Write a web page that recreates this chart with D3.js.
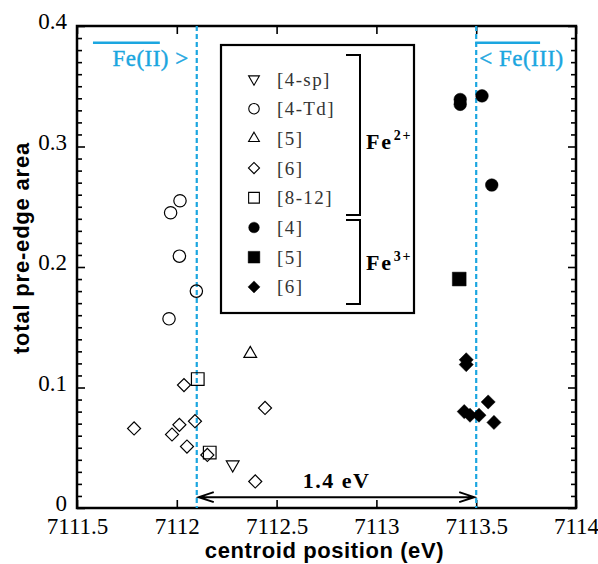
<!DOCTYPE html>
<html>
<head>
<meta charset="utf-8">
<script src="https://cdn.jsdelivr.net/npm/d3@7"></script>
<style>
  body { margin: 0; background: #fff; }
  svg { display: block; }
  .tick text { font-family: 'Liberation Serif', 'Times New Roman', serif; font-size: 23px; fill: #000; }
</style>
</head>
<body>
<script>
// Fe2+ series [x = centroid position (eV), y = total pre-edge area]
const fe2_4sp = [[7112.28, 0.036]]
const fe2_4td = [[7112.016, 0.255], [7111.969, 0.245], [7112.013, 0.209], [7112.098, 0.180], [7111.961, 0.157]]
const fe2_5 = [[7112.368, 0.128]]
const fe2_6 = [[7112.036, 0.102], [7112.442, 0.083], [7112.091, 0.072], [7112.013, 0.069], [7111.786, 0.066],
  [7111.976, 0.061], [7112.051, 0.051], [7112.153, 0.044], [7112.393, 0.022]]
const fe2_812 = [[7112.105, 0.107], [7112.165, 0.046]]
// Fe3+ series
const fe3_4 = [[7113.42, 0.339], [7113.42, 0.335], [7113.529, 0.342], [7113.578, 0.268]]
const fe3_5 = [[7113.415, 0.190]]
const fe3_6 = [[7113.45, 0.123], [7113.45, 0.119], [7113.56, 0.088], [7113.44, 0.080], [7113.469, 0.077],
  [7113.514, 0.077], [7113.589, 0.071]]

const xTicks = [7111.5, 7112, 7112.5, 7113, 7113.5, 7114]
const xTickLabels = ['7111.5', '7112', '7112.5', '7113', '7113.5', '7114']
const yTicks = [0, 0.1, 0.2, 0.3, 0.4]
const yTickLabels = ['0', '0.1', '0.2', '0.3', '0.4']
const refLines = [7112.1, 7113.5]

const legendLabels = ['[4-sp]', '[4-Td]', '[5]', '[6]', '[8-12]', '[4]', '[5]', '[6]']

const width = 598
const height = 564
const margin = { left: 77, right: 22, top: 26, bottom: 56 }
const colors = { cyan: '#1ba6e0', ink: '#000', legend: '#333' }

const svg = d3.select('body').append('svg')
  .attr('width', width)
  .attr('height', height)

const x = d3.scaleLinear().domain([7111.5, 7114]).range([margin.left, width - margin.right])
const y = d3.scaleLinear().domain([0, 0.4]).range([height - margin.bottom, margin.top])
const x0 = margin.left, x1 = width - margin.right
const y0 = height - margin.bottom, y1 = margin.top

const xMinor = d3.range(75116, 71140 + 1).map(v => v / 10).filter(v => !xTicks.includes(v))
const yMinor = d3.range(0, 41).map(v => v / 100).filter(v => v % 0.1 > 0.001 && v % 0.1 < 0.099)

// axes with inward ticks
const axes = [
  [d3.axisBottom(x).tickValues(xTicks).tickFormat((d, i) => xTickLabels[i]).tickSize(-8).tickPadding(10), `translate(0,${y0})`],
  [d3.axisBottom(x).tickValues(xMinor).tickFormat('').tickSize(-5), `translate(0,${y0})`],
  [d3.axisTop(x).tickValues(xTicks).tickFormat('').tickSize(-8), `translate(0,${y1})`],
  [d3.axisTop(x).tickValues(xMinor).tickFormat('').tickSize(-5), `translate(0,${y1})`],
  [d3.axisLeft(y).tickValues(yTicks).tickFormat((d, i) => yTickLabels[i]).tickSize(-8).tickPadding(10), `translate(${x0},0)`],
  [d3.axisLeft(y).tickValues(yMinor).tickFormat('').tickSize(-5), `translate(${x0},0)`],
  [d3.axisRight(y).tickValues(yTicks).tickFormat('').tickSize(-8), `translate(${x1},0)`],
  [d3.axisRight(y).tickValues(yMinor).tickFormat('').tickSize(-5), `translate(${x1},0)`]
]
axes.forEach(([ax, tr], i) => {
  const g = svg.append('g').attr('transform', tr).call(ax)
  g.select('.domain').remove()
  g.selectAll('.tick line').attr('stroke', colors.ink).attr('stroke-width', 1.6)
  if (i === 4) g.selectAll('.tick text').attr('dy', '0.12em')
})

// frame
svg.append('rect')
  .attr('x', x0).attr('y', y1)
  .attr('width', x1 - x0).attr('height', y0 - y1)
  .attr('fill', 'none').attr('stroke', colors.ink).attr('stroke-width', 2.5)

// axis titles
svg.append('text')
  .attr('x', (x0 + x1) / 2 - 2).attr('y', 558)
  .attr('text-anchor', 'middle')
  .style('font-family', "'Liberation Sans', Arial, sans-serif")
  .style('font-weight', 'bold').style('font-size', '22px').style('letter-spacing', '0.6px')
  .text('centroid position (eV)')

svg.append('text')
  .attr('transform', 'translate(29,248) rotate(-90)')
  .attr('text-anchor', 'middle')
  .style('font-family', "'Liberation Sans', Arial, sans-serif")
  .style('font-weight', 'bold').style('font-size', '22px').style('letter-spacing', '0.8px')
  .text('total pre-edge area')

// reference dashed lines
svg.selectAll('line.ref')
  .data(refLines)
  .enter().append('line')
  .attr('class', 'ref')
  .attr('x1', d => x(d)).attr('x2', d => x(d))
  .attr('y1', y1).attr('y2', y0)
  .attr('stroke', colors.cyan).attr('stroke-width', 2.2)
  .attr('stroke-dasharray', '5,3')

// Fe(II) / Fe(III) labels with overlines
const cyanText = (t, xx, anchor) => svg.append('text')
  .attr('x', xx).attr('y', 66).attr('text-anchor', anchor)
  .style('font-family', "'Liberation Serif', 'Times New Roman', serif")
  .style('font-size', '23px').style('letter-spacing', '0.5px')
  .attr('fill', colors.cyan).attr('stroke', colors.cyan).attr('stroke-width', 0.4)
  .text(t)
cyanText('Fe(II) >', x(refLines[0]) - 8, 'end')
cyanText('< Fe(III)', x(refLines[1]) + 3, 'start')
svg.append('line')
  .attr('x1', x(7111.58)).attr('x2', x(7111.915)).attr('y1', y(0.386)).attr('y2', y(0.386))
  .attr('stroke', colors.cyan).attr('stroke-width', 2.5)
svg.append('line')
  .attr('x1', x(refLines[1]) - 1).attr('x2', x(7113.82)).attr('y1', y(0.386)).attr('y2', y(0.386))
  .attr('stroke', colors.cyan).attr('stroke-width', 2.5)

// 1.4 eV double arrow
const ay = y(0.009)
const ax0 = x(refLines[0]) + 2, ax1 = x(refLines[1]) - 2
svg.append('path')
  .attr('d', `M${ax0},${ay}H${ax1}M${ax0 + 15},${ay - 5}L${ax0},${ay}L${ax0 + 15},${ay + 5}M${ax1 - 15},${ay - 5}L${ax1},${ay}L${ax1 - 15},${ay + 5}`)
  .attr('fill', 'none').attr('stroke', colors.ink).attr('stroke-width', 2)
svg.append('text')
  .attr('x', (ax0 + ax1) / 2).attr('y', ay - 9)
  .attr('text-anchor', 'middle')
  .style('font-family', "'Liberation Serif', 'Times New Roman', serif")
  .style('font-weight', 'bold').style('font-size', '22px').style('letter-spacing', '1.5px')
  .text(`${(refLines[1] - refLines[0]).toFixed(1)} eV`)

// marker definitions
const sym = (type, size) => d3.symbol().type(type).size(size)()
const markers = [
  { d: sym(d3.symbolTriangle, 70), rot: 180, fill: 'none', data: fe2_4sp },
  { d: sym(d3.symbolCircle, 120), rot: 0, fill: 'none', data: fe2_4td },
  { d: sym(d3.symbolTriangle, 70), rot: 0, fill: 'none', data: fe2_5 },
  { d: sym(d3.symbolSquare, 85), rot: 45, fill: 'none', data: fe2_6 },
  { d: sym(d3.symbolSquare, 160), rot: 0, fill: 'none', data: fe2_812 },
  { d: sym(d3.symbolCircle, 125), rot: 0, fill: colors.ink, data: fe3_4 },
  { d: sym(d3.symbolSquare, 190), rot: 0, fill: colors.ink, data: fe3_5 },
  { d: sym(d3.symbolSquare, 100), rot: 45, fill: colors.ink, data: fe3_6 }
]

markers.forEach(m => {
  svg.append('g').selectAll('path')
    .data(m.data)
    .enter().append('path')
    .attr('d', m.d)
    .attr('transform', d => `translate(${x(d[0])},${y(d[1])}) rotate(${m.rot})`)
    .attr('fill', m.fill)
    .attr('stroke', colors.ink)
    .attr('stroke-width', m.fill === 'none' ? 1.2 : 0.5)
})

// legend
const lg = svg.append('g')
lg.append('rect')
  .attr('x', 221).attr('y', 45).attr('width', 193).attr('height', 268)
  .attr('fill', '#fff').attr('stroke', colors.ink).attr('stroke-width', 2.2)

const rowY = i => 79 + i * 29.7
markers.forEach((m, i) => {
  lg.append('path')
    .attr('d', m.d)
    .attr('transform', `translate(254,${rowY(i)}) rotate(${m.rot}) scale(0.85)`)
    .attr('fill', m.fill).attr('stroke', colors.ink)
    .attr('stroke-width', m.fill === 'none' ? 1.3 : 0.5)
  lg.append('text')
    .attr('x', 277).attr('y', rowY(i))
    .attr('dominant-baseline', 'central')
    .style('font-family', "'Liberation Serif', 'Times New Roman', serif")
    .style('font-size', '19px').style('letter-spacing', '1.4px')
    .attr('fill', colors.legend)
    .text(legendLabels[i])
})

// brackets
lg.append('path')
  .attr('d', 'M346,55H360V215H346M346,220H360V304H346')
  .attr('fill', 'none').attr('stroke', colors.ink).attr('stroke-width', 2)

const feLabel = (sup, yy) => {
  const t = lg.append('text')
    .attr('x', 366).attr('y', yy)
    .style('font-family', "'Liberation Serif', 'Times New Roman', serif")
    .style('font-weight', 'bold').style('font-size', '22px').style('letter-spacing', '1.8px')
  t.append('tspan').text('Fe')
  t.append('tspan').attr('dy', -9).attr('dx', 1).style('font-size', '14px').text(sup)
}
feLabel('2+', 149)
feLabel('3+', 270)
</script>
</body>
</html>
